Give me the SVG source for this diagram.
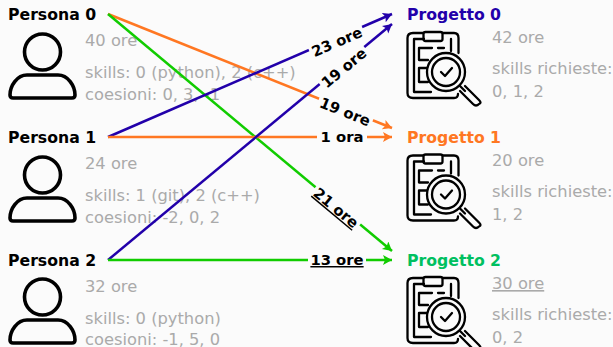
<svg xmlns="http://www.w3.org/2000/svg" width="613" height="347" viewBox="0 0 613 347">
<style>
text{font-family:"DejaVu Sans",Verdana,sans-serif}
.n{font-size:15.7px;font-weight:700;fill:#000}
.g{font-size:16.3px;fill:#aaa}
.l{font-size:14.8px;font-weight:700;fill:#000;text-anchor:middle}
.c{fill:none;stroke-width:2.5}
.bg{fill:#fbfbfb}
.ic{fill:none;stroke:#000;stroke-width:2.3;stroke-linejoin:round;stroke-linecap:round}
.pi{fill:none;stroke:#000;stroke-width:3.6;stroke-linejoin:round}
</style>
<defs>
<marker id="ab" markerWidth="12" markerHeight="12" refX="9" refY="5" orient="auto" markerUnits="userSpaceOnUse"><path d="M0 0L9 5L0 10L2 5z" fill="#2200aa"/></marker>
<marker id="ao" markerWidth="12" markerHeight="12" refX="9" refY="5" orient="auto" markerUnits="userSpaceOnUse"><path d="M0 0L9 5L0 10L2 5z" fill="#ff7722"/></marker>
<marker id="ag" markerWidth="12" markerHeight="12" refX="9" refY="5" orient="auto" markerUnits="userSpaceOnUse"><path d="M0 0L9 5L0 10L2 5z" fill="#11cc00"/></marker>
<g id="person"><circle cx="42.5" cy="52" r="18" class="pi"/><path class="pi" d="M27 75H58C68 75 75 86 75 95Q75 98 72 98H13Q10 98 10 95C10 86 17 75 27 75Z"/></g>
<g id="project">
<path class="ic" d="M423 33H413Q407.500 33 407.500 38V93Q407.500 98 413 98H454Q458 98 458 94M443 33H454Q458.500 33 458.500 38V53"/>
<rect class="ic" x="423.500" y="32" width="19" height="9" rx="2"/>
<path class="ic" d="M424 39H414V92H431M451 39V51"/>
<path class="ic" d="M419 48H432M419 48V60H428M438 48H444M419 68V82H428M419 68H427"/>
<circle class="ic" cx="446" cy="72" r="19"/><circle class="ic" cx="446" cy="72" r="14"/>
<path class="ic" d="M441 72L445 76L452 68"/>
<path class="ic" d="M460 86L465 91M465 86L479 100Q482 103 479 104Q476 107 473 104L460 91"/>
</g>
</defs>
<rect width="613" height="347" fill="#fbfbfb"/>
<g id="persona0"><text class="n" x="8" y="20">Persona 0</text><use href="#person"/><text class="g" x="85" y="46">40 ore</text><text class="g" x="85" y="78">skills: 0 (python), 2 (c++)</text><text class="g" x="85" y="99.500">coesioni: 0, 3, -1</text></g>
<g id="persona1"><text class="n" x="8" y="143">Persona 1</text><use href="#person" y="123"/><text class="g" x="85" y="169">24 ore</text><text class="g" x="85" y="201">skills: 1 (git), 2 (c++)</text><text class="g" x="85" y="222.500">coesioni: -2, 0, 2</text></g>
<g id="persona2"><text class="n" x="8" y="266">Persona 2</text><use href="#person" y="245"/><text class="g" x="85" y="292">32 ore</text><text class="g" x="85" y="324">skills: 0 (python)</text><text class="g" x="85" y="344.500">coesioni: -1, 5, 0</text></g>
<g id="progetto0"><text class="n" x="407" y="20" style="fill:#2200aa">Progetto 0</text><use href="#project"/><text class="g" x="492" y="43">42 ore</text><text class="g" x="492" y="74">skills richieste:</text><text class="g" x="492" y="96.500">0, 1, 2</text></g>
<g id="progetto1"><text class="n" x="407" y="143" style="fill:#ff7722">Progetto 1</text><use href="#project" y="122.500"/><text class="g" x="492" y="166">20 ore</text><text class="g" x="492" y="197">skills richieste:</text><text class="g" x="492" y="219.500">1, 2</text></g>
<g id="progetto2"><text class="n" x="407" y="266" style="fill:#00c060">Progetto 2</text><use href="#project" y="245"/><text class="g" x="492" y="289" text-decoration="underline">30 ore</text><text class="g" x="492" y="320">skills richieste:</text><text class="g" x="492" y="342.500">0, 2</text></g>
<g id="connectors">
<line class="c" x1="108" y1="14" x2="392" y2="128" stroke="#ff7722" marker-end="url(#ao)"/>
<line class="c" x1="108" y1="14" x2="392" y2="251" stroke="#11cc00" marker-end="url(#ag)"/>
<line class="c" x1="108" y1="137" x2="392" y2="14" stroke="#2200aa" marker-end="url(#ab)"/>
<line class="c" x1="108" y1="137" x2="392" y2="137" stroke="#ff7722" marker-end="url(#ao)"/>
<line class="c" x1="108" y1="260" x2="392" y2="24" stroke="#2200aa" marker-end="url(#ab)"/>
<line class="c" x1="108" y1="260" x2="392" y2="260" stroke="#11cc00" marker-end="url(#ag)"/>
<g transform="translate(337 42) rotate(-23.400)"><rect class="bg" x="-29" y="-9" width="58" height="18"/><text class="l" y="5">23 ore</text></g>
<g transform="translate(344 68) rotate(-39.700)"><rect class="bg" x="-29" y="-9" width="58" height="18"/><text class="l" y="5">19 ore</text></g>
<g transform="translate(345 112) rotate(21.900)"><rect class="bg" x="-29" y="-9" width="58" height="18"/><text class="l" y="5">19 ore</text></g>
<g transform="translate(342 137)"><rect class="bg" x="-25" y="-9" width="50" height="18"/><text class="l" y="5">1 ora</text></g>
<g transform="translate(336 208) rotate(39.800)"><rect class="bg" x="-29" y="-9" width="58" height="18"/><text class="l" y="5" text-decoration="underline">21 ore</text></g>
<g transform="translate(337 260)"><rect class="bg" x="-29" y="-9" width="58" height="18"/><text class="l" y="5" text-decoration="underline">13 ore</text></g>
</g>
</svg>
